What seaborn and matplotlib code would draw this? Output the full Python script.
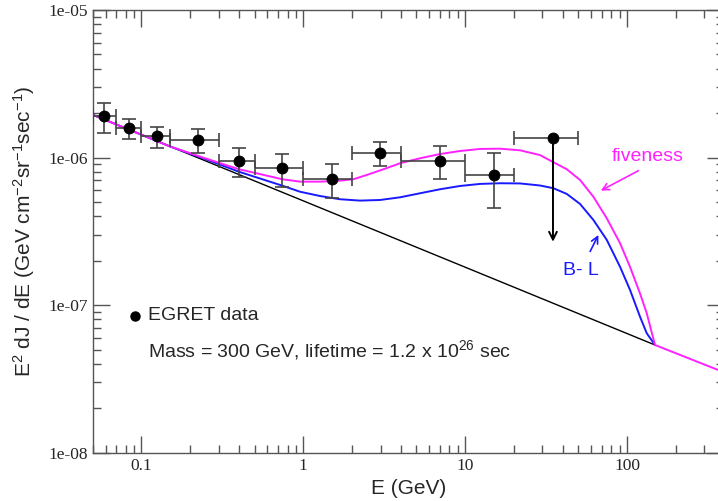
import numpy as np
import pandas as pd
import matplotlib
matplotlib.use("Agg")
import matplotlib.pyplot as plt
from matplotlib.ticker import LogLocator, FuncFormatter, NullFormatter
import seaborn as sns

# EGRET data points (E in GeV), bin edges and flux error range
egret_e = [0.0586, 0.084, 0.125, 0.222, 0.40, 0.74, 1.5, 2.99, 7.0, 15.1]
egret_elo = [0.05, 0.07, 0.1, 0.15, 0.3, 0.5, 1, 2, 4, 10]
egret_ehi = [0.07, 0.1, 0.15, 0.3, 0.5, 1, 2, 4, 10, 20]
egret_flux = [1.91e-6, 1.58e-6, 1.40e-6, 1.32e-6, 9.53e-7, 8.55e-7, 7.17e-7, 1.08e-6, 9.53e-7, 7.67e-7]
egret_hi = [2.33e-6, 1.82e-6, 1.62e-6, 1.55e-6, 1.17e-6, 1.06e-6, 9.06e-7, 1.27e-6, 1.19e-6, 1.07e-6]
egret_lo = [1.46e-6, 1.33e-6, 1.16e-6, 1.07e-6, 7.43e-7, 6.35e-7, 5.30e-7, 8.82e-7, 7.13e-7, 4.52e-7]

# upper limit bin
limit_e, limit_elo, limit_ehi = 34.9, 20, 50
limit_flux, limit_arrow_to = 1.35e-6, 2.69e-7

# background (black)
bg_e = [0.05, 1.0, 149]
bg_flux = [1.95e-6, 5.09e-7, 5.37e-8]

# fiveness model (magenta)
five_e = [0.05, 0.15, 0.241, 0.40, 0.742, 0.954, 1.268, 1.686, 2.037, 2.465, 3.122,
          3.961, 5.265, 7.00, 9.30, 12.36, 16.43, 21.84, 29.0, 35.1, 42.5, 51.3,
          62.0, 75.0, 90.6, 104.4, 120.4, 132.5, 149, 365]
five_flux = [1.95e-6, 1.19e-6, 9.99e-7, 8.34e-7, 7.13e-7, 6.87e-7, 6.87e-7, 6.98e-7,
             7.13e-7, 7.62e-7, 8.33e-7, 9.15e-7, 9.89e-7, 1.057e-6, 1.108e-6, 1.144e-6,
             1.149e-6, 1.12e-6, 1.04e-6, 9.3e-7, 8.33e-7, 7.05e-7, 5.43e-7, 3.88e-7,
             2.63e-7, 1.82e-7, 1.20e-7, 8.82e-8, 5.37e-8, 3.64e-8]

# B-L model (blue)
bl_e = [0.05, 0.15, 0.241, 0.40, 0.742, 0.954, 1.268, 1.686, 2.241, 2.979, 3.961,
        5.265, 7.00, 9.30, 12.36, 16.43, 21.84, 29.0, 35.1, 42.5, 51.3, 62.0, 75.0,
        90.6, 104.4, 120.4, 132.5, 149]
bl_flux = [1.95e-6, 1.19e-6, 9.89e-7, 8.02e-7, 6.45e-7, 5.87e-7, 5.49e-7, 5.22e-7,
           5.11e-7, 5.16e-7, 5.38e-7, 5.73e-7, 6.10e-7, 6.42e-7, 6.63e-7, 6.70e-7,
           6.68e-7, 6.47e-7, 6.20e-7, 5.67e-7, 4.85e-7, 3.78e-7, 2.77e-7, 1.82e-7,
           1.27e-7, 8.35e-8, 6.45e-8, 5.37e-8]

sns.set_style("ticks")
plt.rcParams['font.family'] = ['Liberation Sans', 'DejaVu Sans']
plt.rcParams['mathtext.fontset'] = 'custom'
plt.rcParams['mathtext.rm'] = 'Liberation Sans'
plt.rcParams['mathtext.it'] = 'Liberation Sans:italic'

fig = plt.figure(figsize=(7.18, 5.01), dpi=100)
ax = fig.add_axes([0.1292, 0.0964, 0.8797, 0.8836])
ax.set_xscale('log')
ax.set_yscale('log')

sns.lineplot(x=bg_e, y=bg_flux, ax=ax, color='black', lw=1.0, sort=False)
sns.lineplot(x=bl_e, y=bl_flux, ax=ax, color='#1a1aff', lw=1.4, sort=False)
sns.lineplot(x=five_e, y=five_flux, ax=ax, color='#ff22ff', lw=1.4, sort=False)

e = np.array(egret_e)
f = np.array(egret_flux)
xerr = [e - np.array(egret_elo), np.array(egret_ehi) - e]
yerr = [f - np.array(egret_lo), np.array(egret_hi) - f]
ax.errorbar(e, f, xerr=xerr, yerr=yerr, fmt='none', ecolor='#444444',
            elinewidth=1.2, capsize=5, capthick=1.2, zorder=3)
ax.errorbar([limit_e], [limit_flux],
            xerr=[[limit_e - limit_elo], [limit_ehi - limit_e]],
            fmt='none', ecolor='#444444', elinewidth=1.2, capsize=5, capthick=1.2, zorder=3)
sns.scatterplot(x=egret_e + [limit_e], y=egret_flux + [limit_flux], ax=ax,
                color='black', s=62, edgecolor='black', zorder=4)
ax.annotate('', xy=(limit_e, limit_arrow_to), xytext=(limit_e, limit_flux),
            arrowprops=dict(arrowstyle='->', color='black', lw=1.4,
                            shrinkA=0, shrinkB=0, mutation_scale=14))

# labels on the curves
ax.text(80.9, 1.01e-6, 'fiveness', color='#ff22ff', fontsize=14, ha='left', va='center')
ax.annotate('', xy=(68.9, 5.97e-7), xytext=(117.6, 8.15e-7),
            arrowprops=dict(arrowstyle='->', color='#ff22ff', lw=1.2,
                            shrinkA=0, shrinkB=0, mutation_scale=12))
ax.text(40.1, 1.73e-7, 'B- L', color='#1a1aff', fontsize=14, ha='left', va='center')
ax.annotate('', xy=(66.6, 2.99e-7), xytext=(59.2, 2.31e-7),
            arrowprops=dict(arrowstyle='->', color='#1a1aff', lw=1.2,
                            shrinkA=0, shrinkB=0, mutation_scale=12))

# legend-like notes
ax.plot([0.0912], [8.5e-8], 'o', color='black', ms=6.5)
ax.text(0.1097, 8.5e-8, 'EGRET data', fontsize=14, ha='left', va='center')
ax.text(0.1097, 4.97e-8, 'Mass = 300 GeV, lifetime = 1.2 x 10$^{26}$ sec',
        fontsize=14, ha='left', va='center')

ax.set_xlim(0.05, 400)
ax.set_ylim(1e-8, 1e-5)

ax.xaxis.set_major_locator(LogLocator(base=10, numticks=20))
ax.xaxis.set_minor_locator(LogLocator(base=10, subs=np.arange(2, 10), numticks=20))
ax.yaxis.set_major_locator(LogLocator(base=10, numticks=20))
ax.yaxis.set_minor_locator(LogLocator(base=10, subs=np.arange(2, 10), numticks=20))
ax.xaxis.set_major_formatter(FuncFormatter(lambda v, p: f'{v:g}'))
ax.yaxis.set_major_formatter(FuncFormatter(lambda v, p: f'{v:.0e}'))
ax.xaxis.set_minor_formatter(NullFormatter())
ax.yaxis.set_minor_formatter(NullFormatter())

ax.tick_params(which='both', direction='in', top=True, right=True, color='#555555')
ax.tick_params(which='major', length=12, width=1.0)
ax.tick_params(which='minor', length=6, width=1.0)
for lab in ax.get_xticklabels() + ax.get_yticklabels():
    lab.set_family('Liberation Serif')
    lab.set_fontsize(12.5)
for s in ax.spines.values():
    s.set_color('#555555')
    s.set_linewidth(1.0)

ax.set_xlabel('E (GeV)', fontsize=15, labelpad=4)
ax.set_ylabel('E$^2$ dJ / dE (GeV cm$^{-2}$sr$^{-1}$sec$^{-1}$)', fontsize=15, labelpad=8)

fig.savefig('out.png', dpi=100)
